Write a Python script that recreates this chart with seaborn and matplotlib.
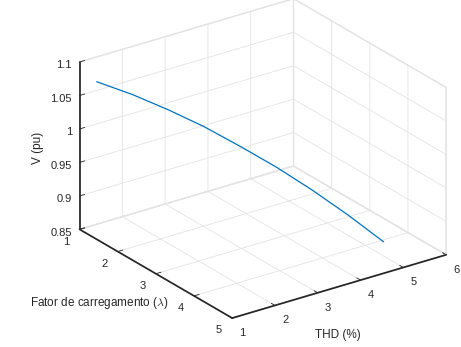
import numpy as np
import matplotlib
matplotlib.use("Agg")
import matplotlib.pyplot as plt
from matplotlib.transforms import ScaledTranslation
import seaborn as sns

# data
lam = [1.0, 1.5, 2.0, 2.5, 3.0, 3.5, 4.0, 4.5, 5.0]
thd = [1.40, 1.79, 2.19, 2.58, 2.97, 3.37, 3.76, 4.15, 4.54]
volt = [1.063, 1.053, 1.039, 1.023, 1.003, 0.981, 0.956, 0.928, 0.897]

x_ticks = [1, 2, 3, 4, 5, 6]
y_ticks = [1, 2, 3, 4, 5]
z_ticks = [0.85, 0.9, 0.95, 1.0, 1.05, 1.1]
z_ticklabels = ["0.85", "0.9", "0.95", "1", "1.05", "1.1"]

sns.set_theme(style="white")
plt.rcParams["font.family"] = ["Liberation Sans", "DejaVu Sans"]
plt.rcParams["mathtext.fontset"] = "cm"

fig = plt.figure(figsize=(4.61, 3.47), dpi=100)
ax = fig.add_subplot(111, projection="3d", proj_type="ortho")
ax.set_position([0.06, 0.030, 1.0, 1.0])

ax.plot(thd, lam, volt, color="#0072BD", lw=0.9)

ax.set_xlim(1, 6)
ax.set_ylim(5, 1)
ax.set_zlim(0.85, 1.1)
ax.set_xticks(x_ticks)
ax.set_yticks(y_ticks)
ax.set_zticks(z_ticks)
ax.set_zticklabels(z_ticklabels)
ax.view_init(elev=24.5, azim=234.5)
ax.set_box_aspect((4, 4, 2.8), zoom=1.16)

dark = (0.15, 0.15, 0.15)
for axis in (ax.xaxis, ax.yaxis, ax.zaxis):
    axis.set_pane_color((1, 1, 1, 1))
    axis._axinfo["grid"]["color"] = (0.89, 0.89, 0.89, 1)
    axis._axinfo["grid"]["linewidth"] = 0.6
    axis._axinfo["axisline"]["color"] = dark + (1,)
    axis._axinfo["tick"]["inward_factor"] = 0.0
    axis._axinfo["tick"]["outward_factor"] = 0.3
    axis._axinfo["tick"]["linewidth"] = {True: 0.6, False: 0.5}
    axis.pane.set_edgecolor((0.89, 0.89, 0.89, 1))
ax.tick_params(labelsize=8, colors=dark, pad=0)

# Axis3D resets tick label transforms in get_major_ticks, so wrap it
# to push the labels to where MATLAB puts them
def shift_ticklabels(axis, dx, dy, ha=None):
    off = ScaledTranslation(dx / 100, dy / 100, fig.dpi_scale_trans)
    base = axis.get_major_ticks

    def get_major_ticks(numticks=None):
        ticks = base(numticks)
        for t in ticks:
            t.label1.set_transform(ax.transData + off)
            if ha:
                t.label1.set_horizontalalignment(ha)
        return ticks

    axis.get_major_ticks = get_major_ticks

shift_ticklabels(ax.xaxis, 1, 6)
shift_ticklabels(ax.yaxis, 0, 7)
shift_ticklabels(ax.zaxis, 15, 0, ha="right")

# axis titles placed like the MATLAB original (horizontal text)
fig.text(0.733, 0.035, "THD (%)", fontsize=8.5, color=dark, ha="center", va="center")
fig.text(0.366, 0.127, r"Fator de carregamento ($\lambda$)", fontsize=8.5, color=dark,
         ha="right", va="center")
fig.text(0.082, 0.5735, "V (pu)", fontsize=8.5, color=dark, rotation=90,
         ha="center", va="center")

fig.savefig("out.png", dpi=100)
